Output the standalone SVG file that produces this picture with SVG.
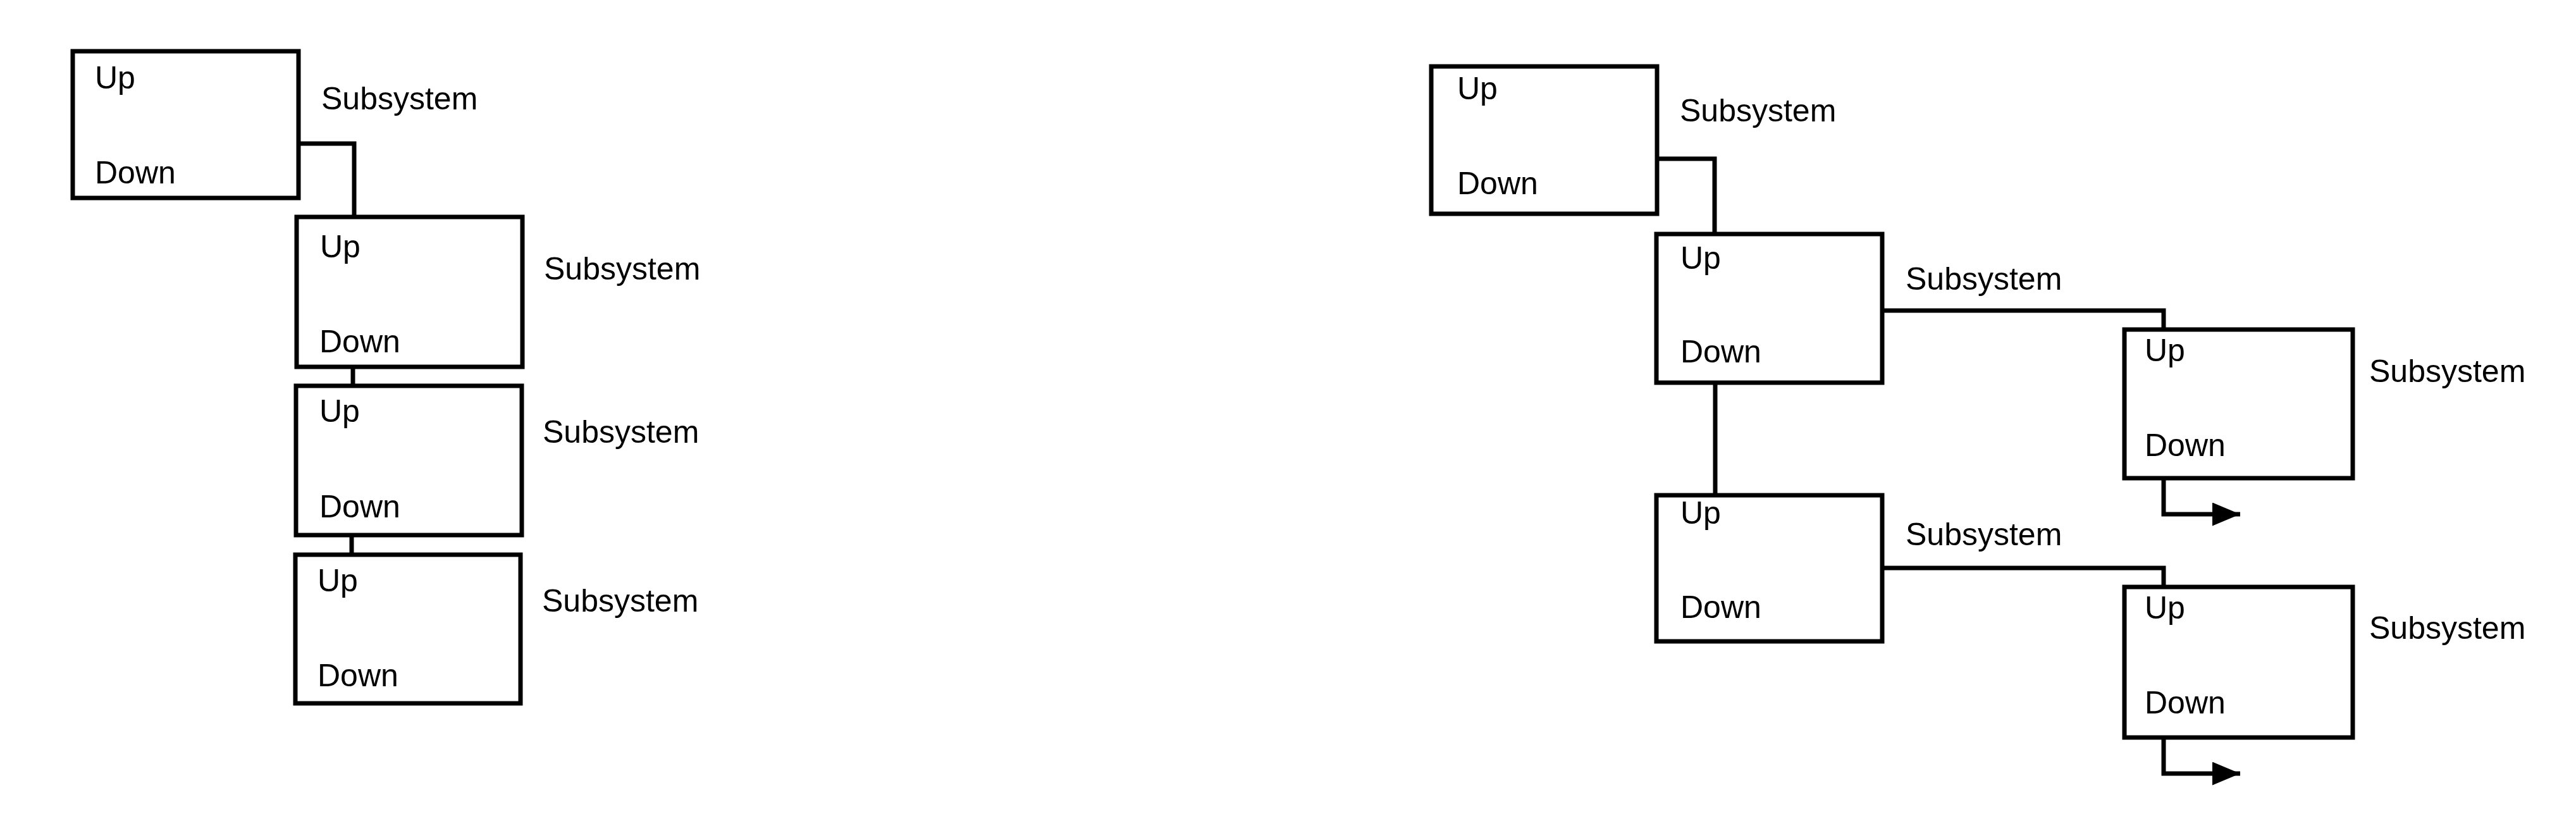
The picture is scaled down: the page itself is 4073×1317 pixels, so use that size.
<svg xmlns="http://www.w3.org/2000/svg" width="4073" height="1317" viewBox="0 0 4073 1317">
<style>
.box{fill:none;stroke:#000;stroke-width:7}
.con{fill:none;stroke:#000;stroke-width:7}
text{font-family:"Liberation Sans",Arial,Helvetica,sans-serif;font-size:50px;fill:#000}
</style>
<defs>
<marker id="arr" viewBox="0 0 44 37" refX="44" refY="18.5" markerWidth="44" markerHeight="37" markerUnits="userSpaceOnUse" orient="auto">
<path d="M0,0 L44,18.5 L0,37 Z" fill="#000"/>
</marker>
</defs>
<rect width="4073" height="1317" fill="#fff"/>
<g id="connectors">
<polyline class="con" points="472,227 560,227 560,343"/>
<polyline class="con" points="558,580 558,610"/>
<polyline class="con" points="556,846 556,877"/>
<polyline class="con" points="2620,251 2711,251 2711,370"/>
<polyline class="con" points="2976,491 3421,491 3421,521"/>
<polyline class="con" points="2712,605 2712,783"/>
<polyline class="con" points="2976,898 3421,898 3421,928"/>
<polyline class="con" points="3421,756 3421,813 3542,813" marker-end="url(#arr)"/>
<polyline class="con" points="3421,1166 3421,1223 3542,1223" marker-end="url(#arr)"/>
</g>
<g id="L1"><rect class="box" x="115" y="81" width="357" height="232"/><text x="150" y="140">Up</text><text x="150" y="290">Down</text><text x="508" y="173">Subsystem</text></g>
<g id="L2"><rect class="box" x="469" y="343" width="357" height="237"/><text x="506" y="407">Up</text><text x="505" y="557">Down</text><text x="860" y="442">Subsystem</text></g>
<g id="L3"><rect class="box" x="468" y="610" width="357" height="236"/><text x="505" y="667">Up</text><text x="505" y="818">Down</text><text x="858" y="700">Subsystem</text></g>
<g id="L4"><rect class="box" x="467" y="877" width="356" height="235"/><text x="502" y="935">Up</text><text x="502" y="1085">Down</text><text x="857" y="967">Subsystem</text></g>
<g id="RA"><rect class="box" x="2263" y="105" width="357" height="233"/><text x="2304" y="157">Up</text><text x="2304" y="307">Down</text><text x="2656" y="192">Subsystem</text></g>
<g id="RB"><rect class="box" x="2619" y="370" width="357" height="235"/><text x="2657" y="425">Up</text><text x="2657" y="573">Down</text><text x="3013" y="458">Subsystem</text></g>
<g id="RC"><rect class="box" x="3359" y="521" width="361" height="235"/><text x="3391" y="571">Up</text><text x="3391" y="721">Down</text><text x="3746" y="604">Subsystem</text></g>
<g id="RD"><rect class="box" x="2619" y="783" width="357" height="231"/><text x="2657" y="828">Up</text><text x="2657" y="977">Down</text><text x="3013" y="862">Subsystem</text></g>
<g id="RE"><rect class="box" x="3359" y="928" width="361" height="238"/><text x="3391" y="978">Up</text><text x="3391" y="1128">Down</text><text x="3746" y="1010">Subsystem</text></g>
</svg>
